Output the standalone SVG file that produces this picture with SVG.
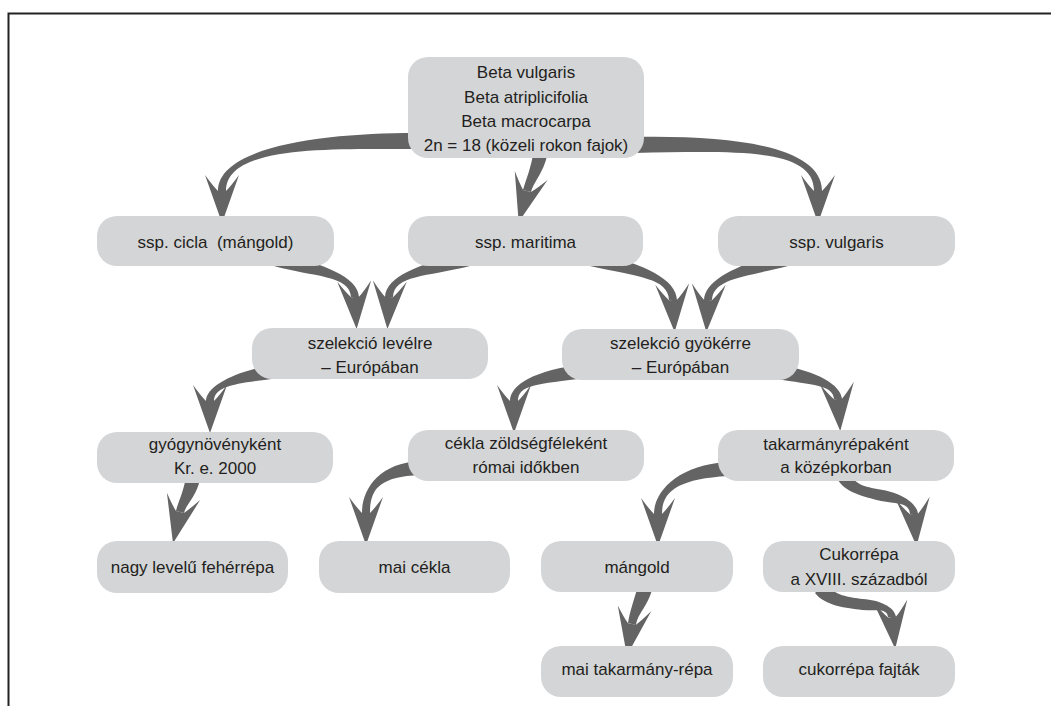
<svg xmlns="http://www.w3.org/2000/svg" width="1051" height="706" viewBox="0 0 1051 706">
<style>
.n{fill:#d4d5d7}
.t{font-family:"Liberation Sans",Arial,sans-serif;font-size:17px;fill:#231f20;text-anchor:middle}
.sh{fill:#646464;stroke:none}
.hd{fill:none;stroke:none;marker-end:url(#ah)}
.f{stroke:#222;stroke-width:2;fill:none}
</style>
<defs>
<marker id="ah" markerUnits="userSpaceOnUse" markerWidth="64" markerHeight="44" viewBox="-22 -22 64 44" refX="0" refY="0" orient="auto" overflow="visible">
<path d="M32,0 L-16,-17 Q-5,-9 0,-4 L0,4 Q-5,9 -16,17 Z" fill="#646464"/>
</marker>
</defs>
<rect width="1051" height="706" fill="#fff"/>
<path class="f" d="M8.5,706 V13.5 H1051"/>
<g id="connectors">
<path class="sh" d="M414,133 C330,133 218,145 218,191 L226,191 C226,145 330,149 414,149 Z"/>
<path class="hd" d="M222,181 L222,191"/>
<path class="sh" d="M534,149 C531,169 526,179 523,190 L531,192 C534,181 545,171 548,151 Z"/>
<path class="hd" d="M529.6,181.4 L527,191"/>
<path class="sh" d="M634,153 C740,151 814,148 814,191 L822,191 C822,148 740,135 634,137 Z"/>
<path class="hd" d="M818,181 L818,191"/>
<path class="sh" d="M274,266 C313,277 350,275 351,297 L359,297 C358,275 317,263 278,252 Z"/>
<path class="hd" d="M354.5,287 L355,297"/>
<path class="sh" d="M468,252 C424,263 386,275 385,297 L393,297 C394,275 426,277 470,266 Z"/>
<path class="hd" d="M389.5,287 L389,297"/>
<path class="sh" d="M590,266 C639,277 668,278 669,300 L677,300 C676,278 641,263 592,252 Z"/>
<path class="hd" d="M672.5,290 L673,300"/>
<path class="sh" d="M785,252 C743,263 705,278 704,300 L712,300 C713,278 746,277 788,266 Z"/>
<path class="hd" d="M708.5,290 L708,300"/>
<path class="sh" d="M280,364 C240,369 206,385 206,401 L214,401 C214,385 240,383 280,378 Z"/>
<path class="hd" d="M210,391 L210,401"/>
<path class="sh" d="M585,364 C534,370 510,385 510,401 L518,401 C518,385 536,384 587,378 Z"/>
<path class="hd" d="M514,391 L514,401"/>
<path class="sh" d="M776,379 C813,385 833,385 834,399 L842,399 C841,385 817,371 780,365 Z"/>
<path class="hd" d="M837.3,389 L838,399"/>
<path class="sh" d="M186,477 C183,494 178,502 176,511 L184,513 C186,504 197,496 200,479 Z"/>
<path class="hd" d="M182.2,502.2 L180,512"/>
<path class="sh" d="M420,461 C380,463 362,488 362,513 L370,513 C370,488 380,477 420,475 Z"/>
<path class="hd" d="M366,503 L366,513"/>
<path class="sh" d="M727,462 C680,465 654,490 654,514 L662,514 C662,490 680,479 728,476 Z"/>
<path class="hd" d="M658,504 L658,514"/>
<path class="sh" d="M837,478 C843,492 865,497 881,501 C897,504 909,502 910,514 L918,514 C917,502 899,493 883,490 C867,487 855,486 849,472 Z"/>
<path class="hd" d="M913.2,504 L914,514"/>
<path class="sh" d="M638,586 C633,603 630,611 628,623 L636,625 C638,613 647,607 652,590 Z"/>
<path class="hd" d="M633.6,614.1 L632,624"/>
<path class="sh" d="M815,593 C825,606 847,608 862,610 C877,611 887,608 888,617 L896,617 C895,607 879,600 863,599 C848,597 835,596 825,583 Z"/>
<path class="hd" d="M891,607 L892,617"/>
</g>
<g id="n-top"><rect class="n" x="408" y="57" width="236" height="101" rx="20"/>
<text class="t" x="526" y="78">Beta vulgaris</text>
<text class="t" x="526" y="103">Beta atriplicifolia</text>
<text class="t" x="526" y="127">Beta macrocarpa</text>
<text class="t" x="526" y="151">2n = 18 (közeli rokon fajok)</text></g>
<g id="n-cicla"><rect class="n" x="97" y="216" width="237" height="50" rx="20"/>
<text class="t" x="215.5" y="248" xml:space="preserve">ssp. cicla  (mángold)</text></g>
<g id="n-maritima"><rect class="n" x="408" y="216" width="235" height="50" rx="20"/>
<text class="t" x="525.5" y="248">ssp. maritima</text></g>
<g id="n-vulgaris"><rect class="n" x="718" y="216" width="237" height="50" rx="20"/>
<text class="t" x="836.5" y="248">ssp. vulgaris</text></g>
<g id="n-levelre"><rect class="n" x="252" y="328" width="236" height="51" rx="20"/>
<text class="t" x="370" y="349">szelekció levélre</text>
<text class="t" x="370" y="373">– Európában</text></g>
<g id="n-gyokerre"><rect class="n" x="562" y="329" width="237" height="51" rx="20"/>
<text class="t" x="680.5" y="349">szelekció gyökérre</text>
<text class="t" x="680.5" y="373">– Európában</text></g>
<g id="n-gyogy"><rect class="n" x="97" y="432" width="236" height="51" rx="20"/>
<text class="t" x="215" y="450">gyógynövényként</text>
<text class="t" x="215" y="474">Kr. e. 2000</text></g>
<g id="n-cekla"><rect class="n" x="408" y="430" width="236" height="51" rx="20"/>
<text class="t" x="526" y="449">cékla zöldségféleként</text>
<text class="t" x="526" y="473">római időkben</text></g>
<g id="n-takarmany"><rect class="n" x="718" y="430" width="236" height="51" rx="20"/>
<text class="t" x="836" y="450">takarmányrépaként</text>
<text class="t" x="836" y="473">a középkorban</text></g>
<g id="n-nagy"><rect class="n" x="97" y="541" width="191" height="52" rx="20"/>
<text class="t" x="192.5" y="573">nagy levelű fehérrépa</text></g>
<g id="n-maicekla"><rect class="n" x="319" y="541" width="191" height="52" rx="20"/>
<text class="t" x="414.5" y="573">mai cékla</text></g>
<g id="n-mangold"><rect class="n" x="541" y="541" width="192" height="51" rx="20"/>
<text class="t" x="637" y="573">mángold</text></g>
<g id="n-cukorrepa"><rect class="n" x="763" y="541" width="192" height="51" rx="20"/>
<text class="t" x="859" y="560">Cukorrépa</text>
<text class="t" x="859" y="585">a XVIII. századból</text></g>
<g id="n-maitak"><rect class="n" x="541" y="646" width="192" height="51" rx="20"/>
<text class="t" x="637" y="675">mai takarmány-répa</text></g>
<g id="n-fajtak"><rect class="n" x="763" y="646" width="192" height="51" rx="20"/>
<text class="t" x="859" y="675">cukorrépa fajták</text></g>
</svg>
